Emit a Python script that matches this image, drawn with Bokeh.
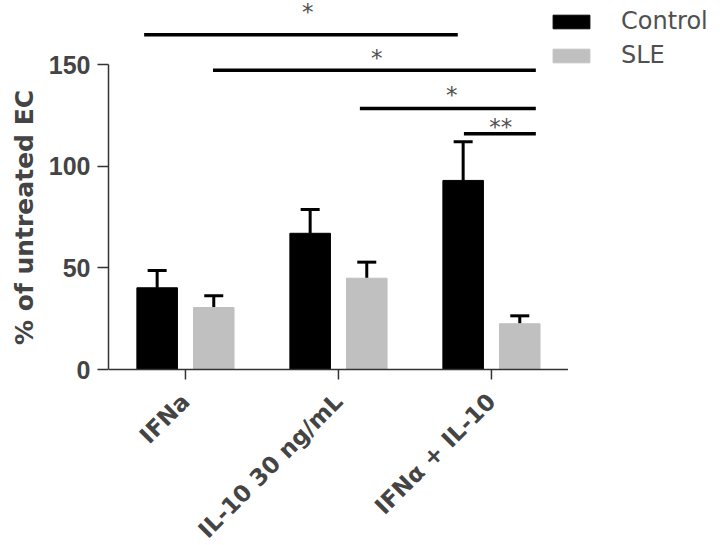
import math
from bokeh.plotting import figure
from bokeh.models import (ColumnDataSource, Whisker, TeeHead, FixedTicker, Legend,
                          LegendItem, Title)
from bokeh.core.properties import value
from bokeh.embed import file_html
from bokeh.resources import INLINE

# ---- data ----
categories = ["IFNa", "IL-10 30 ng/mL", "IFNα + IL-10"]
control_mean = [40.2, 67.0, 93.0]
control_sem = [8.5, 11.7, 19.0]
sle_mean = [30.5, 44.9, 22.5]
sle_sem = [5.8, 7.9, 3.9]

# significance brackets (x in category units, y in % units)
sig_x0 = [-0.27, 0.18, 1.14, 1.82]
sig_x1 = [1.78, 2.29, 2.29, 2.29]
sig_y = [164.6, 147.2, 128.4, 115.9]
sig_text = ["*", "*", "*", "**"]
sig_text_x = [0.80, 1.25, 1.74, 2.06]
sig_text_y = [176.0, 153.0, 134.8, 119.5]

y_ticks = [0, 50, 100, 150]
y_label = "% of untreated EC"

# ---- layout constants ----
H, W = 545, 720
LEFT = 108
AXIS_PX = 369                 # pixel row of y = 0
Y_TOP = 181.5
PX = AXIS_PX / Y_TOP          # pixels per % unit
Y_BOTTOM = -(H - AXIS_PX) / PX
CAT_PX = 153                  # pixels per category
X_LEFT = -0.503
X_RIGHT = X_LEFT + (W - LEFT) / CAT_PX
YLABEL_LEN_PX = 256           # approx. rendered length of the y title

offset = 0.185
bar_w = 0.265
idx = list(range(len(categories)))

ctrl_src = ColumnDataSource(dict(
    x=[i - offset for i in idx], top=control_mean,
    upper=[m + s for m, s in zip(control_mean, control_sem)]))
sle_src = ColumnDataSource(dict(
    x=[i + offset for i in idx], top=sle_mean,
    upper=[m + s for m, s in zip(sle_mean, sle_sem)]))

p = figure(width=W, height=H,
           x_range=(X_LEFT, X_RIGHT), y_range=(Y_BOTTOM, Y_TOP),
           x_axis_location=None,
           output_backend="svg", toolbar_location=None,
           min_border_left=LEFT, min_border_right=0, min_border_top=0,
           min_border_bottom=0)
p.outline_line_color = None
p.xgrid.visible = False
p.ygrid.visible = False
p.background_fill_color = "white"

# error bars (drawn first so bars cover lower part)
for src in (ctrl_src, sle_src):
    w = Whisker(source=src, base="x", upper="upper", lower="top",
                line_color="black", line_width=3,
                upper_head=TeeHead(size=19, line_width=3, line_color="black"),
                lower_head=None, level="underlay")
    p.add_layout(w)

r_ctrl = p.vbar(x="x", top="top", width=bar_w, source=ctrl_src,
                fill_color="black", line_color="black")
r_sle = p.vbar(x="x", top="top", width=bar_w, source=sle_src,
               fill_color="#c0c0c0", line_color="#c0c0c0")

# x axis (category axis at y = 0): baseline, ticks and rotated labels
n = len(categories)
p.segment(x0=[-0.5], x1=[n - 0.5], y0=[0], y1=[0],
          line_color="#333333", line_width=1.5)
p.segment(x0=idx, x1=idx, y0=[0] * n, y1=[-10 / PX] * n,
          line_color="#333333", line_width=1.5)
p.text(x=idx, y=[-28 / PX] * n, text=categories, angle=math.pi / 4,
       text_align="right", text_baseline="middle",
       text_font=value("DejaVu Sans"), text_font_style="bold",
       text_font_size="23px", text_color="#444444")

# significance lines and stars
p.segment(x0=sig_x0, x1=sig_x1, y0=sig_y, y1=sig_y, line_color="black",
          line_width=3.5)
p.text(x=sig_text_x, y=sig_text_y, text=sig_text, text_align="center",
       text_baseline="alphabetic", text_font=value("DejaVu Sans"),
       text_font_size="23px", text_color="#505050")

# y axis
ya = p.yaxis[0]
ya.ticker = FixedTicker(ticks=y_ticks)
ya.bounds = (0, 150)
ya.minor_tick_line_color = None
ya.major_tick_out = 11
ya.major_tick_in = 0
ya.axis_line_color = "#333333"
ya.axis_line_width = 1.5
ya.major_tick_line_color = "#333333"
ya.major_tick_line_width = 1.5
ya.major_label_text_font = "Liberation Sans"
ya.major_label_text_font_style = "bold"
ya.major_label_text_font_size = "25px"
ya.major_label_text_color = "#444444"
ya.major_label_standoff = 7

# y axis title, centred on the 0-150 axis line
y_mid_px = AXIS_PX - (ya.bounds[0] + ya.bounds[1]) / 2 * PX
ytitle = Title(text=y_label, align="left",
               offset=H - (y_mid_px + YLABEL_LEN_PX / 2),
               text_font="DejaVu Sans", text_font_style="bold",
               text_font_size="25px", text_color="#444444", standoff=14)
p.add_layout(ytitle, "left")

legend = Legend(items=[LegendItem(label="Control", renderers=[r_ctrl]),
                       LegendItem(label="SLE", renderers=[r_sle])],
                location=(440, 300 + (H - AXIS_PX)), glyph_width=46,
                glyph_height=17, label_standoff=27, padding=0, margin=0,
                spacing=6, border_line_color=None, background_fill_alpha=0,
                label_text_font="DejaVu Sans", label_text_font_size="24px",
                label_text_color="#505050")
p.add_layout(legend)

open("out.html", "w").write(file_html(p, INLINE))
